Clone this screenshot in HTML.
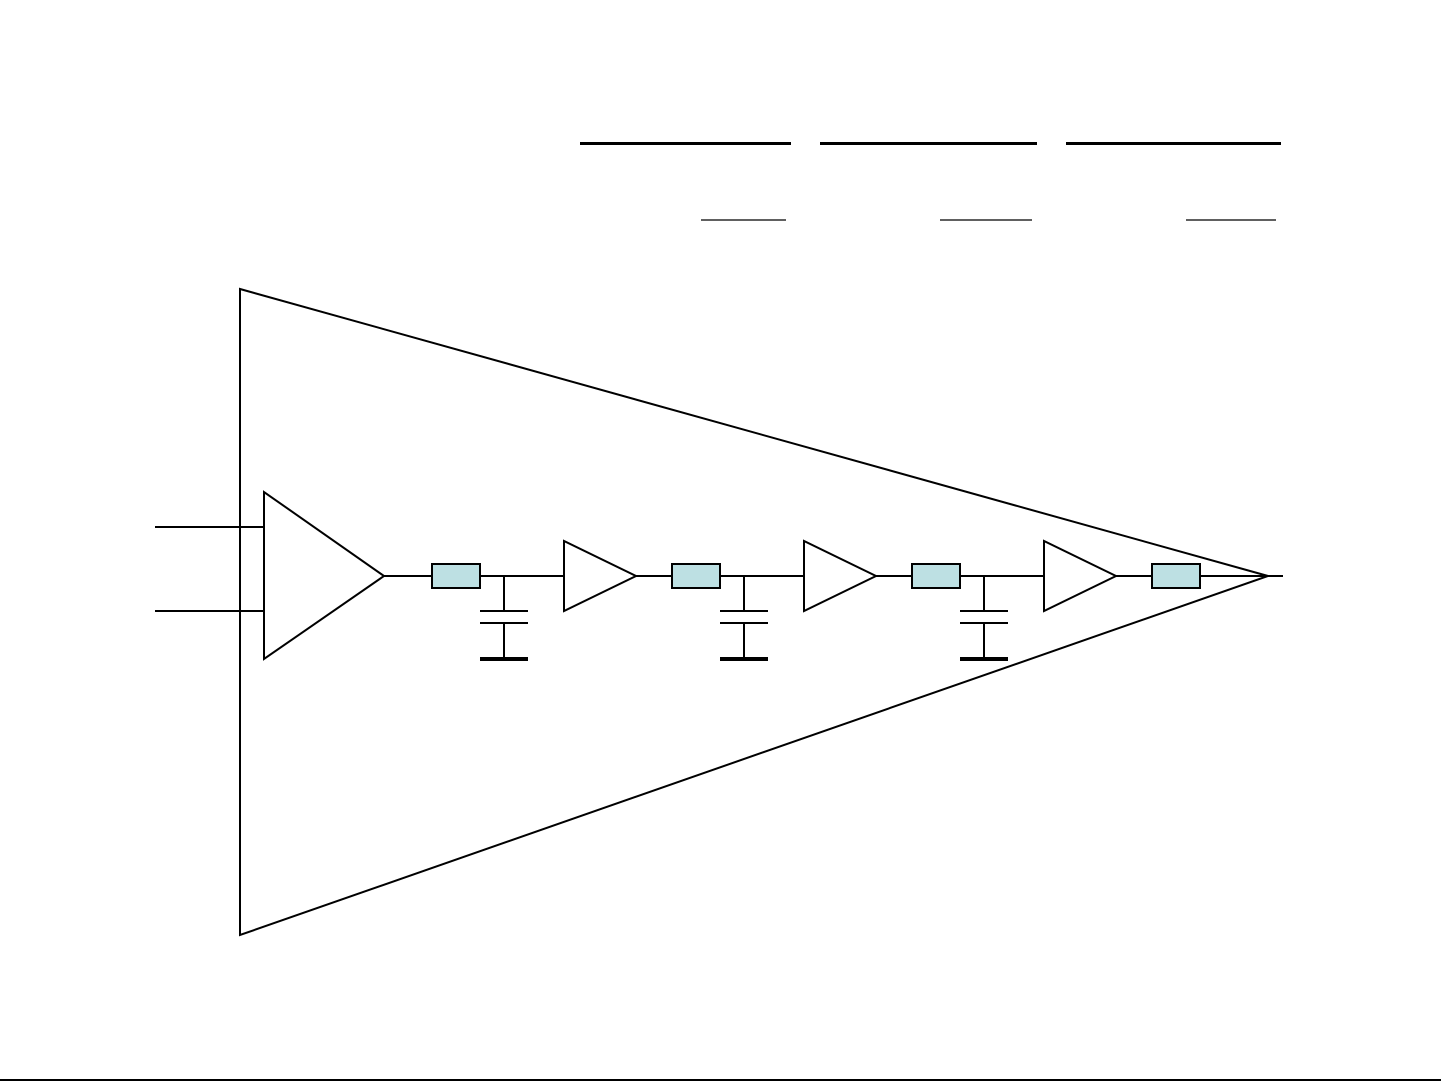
<!DOCTYPE html>
<html><head><meta charset="utf-8"><style>
html,body{margin:0;padding:0;background:#fff;}
svg{display:block;}
</style></head><body>
<svg width="1441" height="1081" viewBox="0 0 1441 1081" xmlns="http://www.w3.org/2000/svg">
<rect width="1441" height="1081" fill="#fff"/>
<g stroke="#000" fill="none">
<line x1="580" y1="143.5" x2="791" y2="143.5" stroke-width="3"/>
<line x1="820" y1="143.5" x2="1037" y2="143.5" stroke-width="3"/>
<line x1="1066" y1="143.5" x2="1281" y2="143.5" stroke-width="3"/>
<line x1="701" y1="220" x2="786" y2="220" stroke-width="1.3"/>
<line x1="940" y1="220" x2="1032" y2="220" stroke-width="1.3"/>
<line x1="1186" y1="220" x2="1276" y2="220" stroke-width="1.3"/>
<polygon points="240,289 240,935 1268,576" stroke-width="2"/>
<line x1="1268" y1="576" x2="1283" y2="576" stroke-width="2"/>
<line x1="155" y1="527" x2="264" y2="527" stroke-width="2"/>
<line x1="155" y1="611" x2="264" y2="611" stroke-width="2"/>
<polygon points="264,492 264,659 384,576" stroke-width="2"/>
<line x1="384" y1="576" x2="564" y2="576" stroke-width="2"/>
<line x1="636" y1="576" x2="804" y2="576" stroke-width="2"/>
<line x1="876" y1="576" x2="1044" y2="576" stroke-width="2"/>
<line x1="1116" y1="576" x2="1268" y2="576" stroke-width="2"/>
<polygon points="564,541 564,611 636,576" stroke-width="2"/>
<polygon points="804,541 804,611 876,576" stroke-width="2"/>
<polygon points="1044,541 1044,611 1116,576" stroke-width="2"/>
<g fill="#bde0e3" stroke-width="2">
<rect x="432" y="564" width="48" height="24"/>
<rect x="672" y="564" width="48" height="24"/>
<rect x="912" y="564" width="48" height="24"/>
<rect x="1152" y="564" width="48" height="24"/>
</g>
<g stroke-width="2">
<path d="M504 576V611M480 611H528M480 623H528M504 623V659"/>
<path d="M744 576V611M720 611H768M720 623H768M744 623V659"/>
<path d="M984 576V611M960 611H1008M960 623H1008M984 623V659"/>
</g>
<g stroke-width="4">
<line x1="480" y1="659" x2="528" y2="659"/>
<line x1="720" y1="659" x2="768" y2="659"/>
<line x1="960" y1="659" x2="1008" y2="659"/>
</g>
<line x1="0" y1="1080" x2="1441" y2="1080" stroke-width="2"/>
</g>
</svg>
</body></html>
